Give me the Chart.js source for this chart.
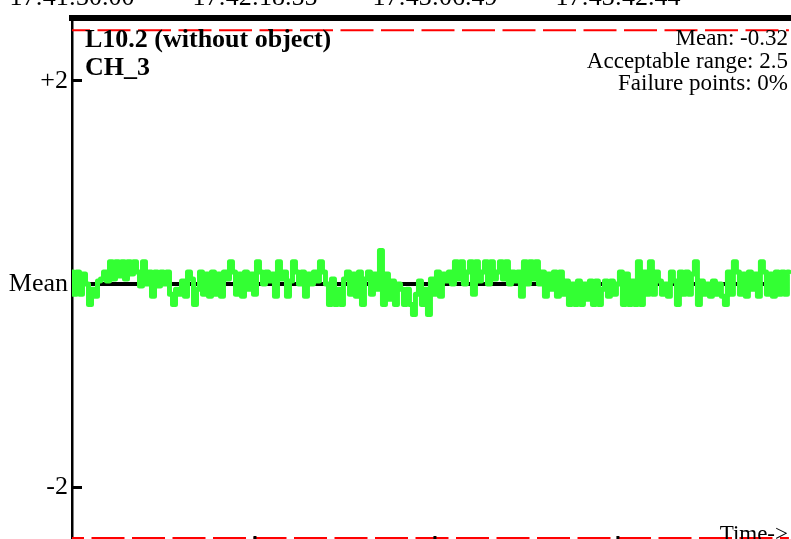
<!DOCTYPE html>
<html>
<head>
<meta charset="utf-8">
<script src="https://cdn.jsdelivr.net/npm/chart.js@4/dist/chart.umd.min.js"></script>
<style>
  html, body { margin: 0; padding: 0; background: #fff; overflow: hidden; }
  #wrap { position: absolute; left: 0; top: -20px; width: 791px; height: 559px; }
</style>
</head>
<body>
<div id="wrap"><canvas id="myChart"></canvas></div>
<script>
// time labels along the top, placed at these sample indexes
var timeLabels = ["17:41:30.00", "17:42:18.55", "17:43:06.49", "17:43:42.44"];
var timeTickIndex = [0, 61, 121, 182];

// y ticks, relative to the mean
var yTickValues = [-2, 0, 2];
var yTickLabels = ["-2", "Mean", "+2"];

var acceptableRange = 2.5;
var titleLines = ["L10.2 (without object)", "CH_3"];
var infoLines = ["Mean: -0.32", "Acceptable range: 2.5", "Failure points: 0%"];

// CH_3 deviation from the mean, one value per sample
var deviation = [
  0.12, -0.1, 0.12, -0.1, 0.1, 0.0, -0.2, -0.05, -0.12, 0.03, 0.05, 0.12, 0.03,
  0.22, 0.05, 0.22, 0.08, 0.22, 0.05, 0.22, 0.1, 0.22, 0.12, -0.02, 0.22, 0.0, 0.12,
  -0.12, 0.12, -0.02, 0.12, 0.0, 0.12, -0.1, -0.2, -0.05, -0.1, 0.03, -0.12,
  0.12, 0.05, -0.2, -0.05, 0.12, -0.1, 0.1, -0.12,
  0.12, -0.1, 0.1, -0.12, 0.12, 0.05, 0.22, 0.12, -0.1, 0.1, -0.12, 0.12, -0.05, 0.1,
  -0.1, 0.22, 0.12, 0.0, 0.12, 0.03, 0.1, -0.12, 0.22, 0.05, 0.12, -0.12, 0.03,
  0.22, 0.12, 0.0, 0.12, -0.12, 0.1, 0.0, 0.12, 0.03, 0.22, 0.12, 0.0,
  -0.2, 0.05, -0.2, -0.05, -0.2, 0.05, 0.12, -0.1, 0.1, -0.12,
  0.12, -0.2, 0.05, 0.12, -0.1, 0.1, -0.05, 0.33, -0.2, 0.1, -0.15, 0.03, -0.2, 0.0,
  -0.05, -0.2, -0.05, -0.2, -0.3, -0.1, 0.03, -0.2, -0.05, -0.3,
  0.05, -0.1, 0.12, -0.12, 0.1, 0.03, 0.12, 0.0, 0.22, 0.05, 0.22, 0.0, 0.12, 0.22,
  -0.1, 0.22, 0.03, 0.12, 0.22, 0.0, 0.22, 0.05, 0.12, 0.22,
  0.05, 0.22, 0.0, 0.12, 0.03, 0.12, -0.12, 0.22, 0.0, 0.22, 0.05, 0.22, 0.0,
  0.12, -0.12, 0.1, -0.05, 0.12, -0.12, 0.12, -0.1,
  0.03, -0.2, 0.0, -0.2, 0.03, -0.2, 0.0, -0.15, 0.03, -0.2, 0.03, -0.2, -0.05,
  0.03, -0.12, 0.03, -0.1, 0.0, 0.12, -0.2, 0.1, -0.2, 0.03, -0.2, 0.22, -0.2, 0.12,
  -0.1, 0.22, -0.1, 0.12, 0.03, -0.1, 0.0, -0.12, 0.12, 0.03, -0.2,
  0.12, -0.1, 0.12, -0.1, 0.1, 0.22, -0.2,
  0.03, -0.1, 0.0, -0.12, 0.03, -0.1, 0.0, -0.12, -0.2, 0.12, -0.1, 0.22,
  0.12, -0.1, 0.1, -0.12, 0.12, -0.05, 0.1, -0.12, 0.22,
  0.12, -0.1, 0.1, -0.12, 0.12, -0.1, 0.12, -0.1, 0.12
];

var serif = '"Liberation Serif", "Times New Roman", serif';

function pts(fn) {
  return deviation.map(function (v, i) { return { x: i, y: fn(v) }; });
}

var overlay = {
  id: "overlay",
  afterDraw: function (chart) {
    var c = chart.ctx;
    var area = chart.chartArea;
    var xs = chart.scales.x;
    c.save();
    c.fillStyle = "#000";
    c.textBaseline = "alphabetic";

    c.font = "bold 26px " + serif;
    c.textAlign = "left";
    c.fillText(titleLines[0], 85, area.top + 29);
    c.fillText(titleLines[1], 85, area.top + 57);

    c.font = "23px " + serif;
    c.textAlign = "right";
    infoLines.forEach(function (t, i) {
      c.fillText(t, area.right - 3, area.top + 27 + i * 22.5);
    });
    c.fillText("Time->", area.right - 3, area.bottom + 2);

    // little marks at the bottom under each time tick
    xs.ticks.forEach(function (t, i) {
      if (i === 0) return;
      var px = xs.getPixelForValue(t.value);
      c.fillRect(px - 1.5, area.bottom - 3, 3, 3);
    });
    c.restore();
  }
};

var ctx = document.getElementById("myChart");
var myChart = new Chart(ctx, {
  type: "line",
  data: {
    datasets: [
      {
        label: "CH_3",
        data: pts(function (v) { return v; }),
        borderColor: "#33ff33",
        borderWidth: 5,
        borderCapStyle: "round",
        borderJoinStyle: "round",
        stepped: "middle",
        pointRadius: 0
      },
      {
        label: "Mean",
        data: pts(function () { return 0; }),
        borderColor: "#000",
        borderWidth: 4,
        pointRadius: 0
      },
      {
        label: "Upper",
        data: pts(function () { return acceptableRange; }),
        borderColor: "#ff0000",
        borderWidth: 2,
        borderDash: [33, 7.5],
        borderDashOffset: 15,
        pointRadius: 0
      },
      {
        label: "Lower",
        data: pts(function () { return -acceptableRange; }),
        borderColor: "#ff0000",
        borderWidth: 2,
        borderDash: [33, 7.5],
        borderDashOffset: 21,
        pointRadius: 0
      }
    ]
  },
  options: {
    responsive: true,
    maintainAspectRatio: false,
    animation: false,
    layout: { padding: 0 },
    plugins: {
      legend: { display: false },
      tooltip: { enabled: false }
    },
    scales: {
      x: {
        type: "linear",
        position: "top",
        min: 0,
        max: 239.7,
        afterBuildTicks: function (scale) {
          scale.ticks = timeTickIndex.map(function (v) { return { value: v }; });
        },
        afterFit: function (scale) {
          scale.height = 38;
          scale.paddingLeft = 0;
          scale.paddingRight = 0;
        },
        grid: { display: false, drawTicks: false },
        border: { display: true, color: "#000", width: 6 },
        ticks: {
          color: "#000",
          font: { family: serif, size: 26 },
          padding: 4,
          maxRotation: 0,
          autoSkip: false,
          callback: function (v, i) { return timeLabels[i]; }
        }
      },
      y: {
        min: -2.51,
        max: 2.62,
        afterBuildTicks: function (scale) {
          scale.ticks = yTickValues.map(function (v) { return { value: v }; });
        },
        afterFit: function (scale) {
          scale.width = 72;
          scale.paddingTop = 0;
          scale.paddingBottom = 0;
        },
        grid: {
          drawOnChartArea: false,
          drawTicks: true,
          tickLength: -10,
          tickWidth: 3,
          tickColor: "#000"
        },
        border: { display: true, color: "#000", width: 2.5 },
        ticks: {
          color: "#000",
          font: { family: serif, size: 26 },
          padding: 14,
          callback: function (v, i) { return yTickLabels[i]; }
        }
      }
    }
  },
  plugins: [overlay]
});
</script>
</body>
</html>
